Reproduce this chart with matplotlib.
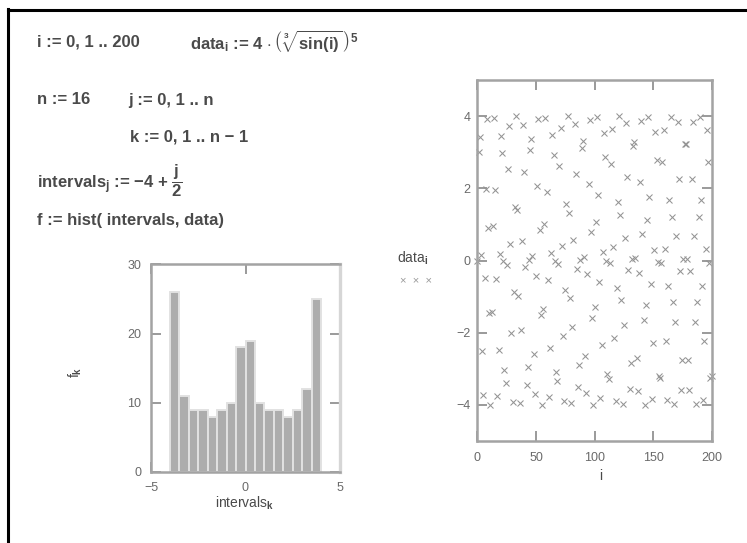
import numpy as np
import matplotlib
matplotlib.use("Agg")
import matplotlib.pyplot as plt
from matplotlib.lines import Line2D

plt.rcParams["font.family"] = ["Liberation Sans", "DejaVu Sans"]
plt.rcParams["mathtext.fontset"] = "custom"
plt.rcParams["mathtext.rm"] = "Liberation Sans:bold"
plt.rcParams["mathtext.it"] = "Liberation Sans:bold:italic"
plt.rcParams["mathtext.bf"] = "Liberation Sans:bold"

# data_i, i = 0 .. 200
data = [
    0.000, 3.001, 3.415, 0.153, -2.514, -3.730, -0.480, 1.987, 3.930, 0.914,
    -1.451, -4.000, -1.419, 0.945, 3.938, 1.953, -0.504, -3.747, -2.482, 0.169,
    3.438, 2.973, -0.002, -3.029, -3.391, -0.137, 2.547, 3.714, 0.456, -2.021,
    -3.922, -0.884, 1.483, 4.000, 1.386, -0.975, -3.946, -1.920, 0.528, 3.763,
    2.450, -0.187, -3.460, -2.945, 0.005, 3.058, 3.368, 0.123, -2.580, -3.698,
    -0.432, 2.055, 3.913, 0.855, -1.518, -3.998, -1.354, 1.005, 3.953, 1.887,
    -0.553, -3.779, -2.418, 0.206, 3.483, 2.916, -0.009, -3.086, -3.345, -0.109,
    2.612, 3.681, 0.408, -2.089, -3.902, -0.827, 1.552, 3.997, 1.322, -1.036,
    -3.960, -1.854, 0.580, 3.793, 2.387, -0.224, -3.506, -2.888, 0.015, 3.113,
    3.319, 0.095, -2.642, -3.661, -0.386, 2.121, 3.892, 0.798, -1.585, -3.995,
    -1.288, 1.065, 3.966, 1.819, -0.606, -3.806, -2.353, 0.242, 3.525, 2.856,
    -0.022, -3.140, -3.295, -0.082, 2.673, 3.643, 0.364, -2.155, -3.882, -0.769,
    1.618, 3.992, 1.255, -1.098, -3.972, -1.786, 0.632, 3.821, 2.321, -0.261,
    -3.546, -2.827, 0.030, 3.167, 3.270, 0.070, -2.704, -3.624, -0.343, 2.187,
    3.871, 0.741, -1.651, -3.989, -1.223, 1.129, 3.977, 1.751, -0.659, -3.833,
    -2.287, 0.279, 3.566, 2.796, -0.039, -3.194, -3.245, -0.059, 2.734, 3.606,
    0.322, -2.220, -3.859, -0.712, 1.684, 3.985, 1.192, -1.161, -3.982, -1.717,
    0.684, 3.846, 2.254, -0.301, -3.586, -2.765, 0.048, 3.220, 3.219, 0.048,
    -2.765, -3.586, -0.300, 2.254, 3.846, 0.684, -1.717, -3.982, -1.161, 1.192,
    3.985, 1.684, -0.712, -3.859, -2.219, 0.322, 3.606, 2.734, -0.059, -3.245,
    -3.194,
]
index = np.arange(len(data))

# interval edges and the counts per interval
intervals = [-4.0, -3.5, -3.0, -2.5, -2.0, -1.5, -1.0, -0.5, 0.0,
             0.5, 1.0, 1.5, 2.0, 2.5, 3.0, 3.5, 4.0]
counts = [26, 11, 9, 9, 8, 9, 10, 18, 19, 10, 9, 9, 8, 9, 12, 25]

hist_xticks = [-5, 0, 5]
hist_yticks = [0, 10, 20, 30]
scat_xticks = [0, 50, 100, 150, 200]
scat_yticks = [-4, -2, 0, 2, 4]

W, H = 747, 543


def fx(x):
    return x / W


def fy(y):
    return 1 - y / H


fig = plt.figure(figsize=(W / 100, H / 100), dpi=100)
fig.patch.set_facecolor("white")

# worksheet frame (top and left edge)
fig.add_artist(Line2D([fx(7.5), 1.0], [fy(10), fy(10)], color="black", lw=2.2))
fig.add_artist(Line2D([fx(7.5), fx(7.5)], [fy(9), 0.0], color="black", lw=2.2))

MINUS = "\u2212"
txt = dict(fontsize=12, fontweight="bold", color="#4a4a4a",
           va="center", ha="left")
fig.text(fx(37), fy(42), "i := 0, 1 .. 200", **txt)
fig.text(fx(190), fy(42),
         r"data$_\mathrm{i}$ := 4 $\cdot\,\left(\,\sqrt[3]{\mathrm{sin(i)}}\,\right)^5$",
         **txt)
fig.text(fx(37), fy(100), "n := 16", **txt)
fig.text(fx(128), fy(100), "j := 0, 1 .. n", **txt)
fig.text(fx(130), fy(137), "k := 0, 1 .. n " + MINUS + " 1", **txt)
fig.text(fx(37), fy(181),
         r"intervals$_\mathrm{j}$ := " + MINUS + r"4 + $\dfrac{\mathrm{j}}{2}$",
         **txt)
fig.text(fx(37), fy(220), "f := hist( intervals, data)", **txt)

spine_col = "#a3a3a3"
tick_col = "#9a9a9a"
lab_col = "#6a6a6a"


def style_axes(ax):
    for sp in ax.spines.values():
        sp.set_color(spine_col)
        sp.set_linewidth(1.8)
    ax.tick_params(direction="in", length=7, width=1.4, color=tick_col,
                   top=True, right=True, labelsize=9, labelcolor=lab_col)


# histogram of the data
ax_h = fig.add_axes([fx(151), fy(472), (340 - 151) / W, (472 - 264.5) / H])
ax_h.bar(intervals[:-1], counts, width=0.5, align="edge",
         color="#adadad", edgecolor="#e2e2e2", linewidth=1.4, zorder=2)
ax_h.set_xlim(-5, 5)
ax_h.set_ylim(0, 30)
ax_h.set_xticks(hist_xticks)
ax_h.set_yticks(hist_yticks)
style_axes(ax_h)
ax_h.spines["right"].set_color("#d6d6d6")
ax_h.spines["right"].set_linewidth(2.4)
ax_h.tick_params(axis="y", pad=7)
ax_h.tick_params(axis="x", pad=7)
fig.text(fx(245), fy(503), r"intervals$_\mathrm{k}$", fontsize=10,
         color="#4a4a4a", ha="center", va="center")
fig.text(fx(75), fy(372), r"f$_\mathrm{k}$", fontsize=10, rotation=90,
         color="#4a4a4a", ha="center", va="center")

# data_i against i
ax_s = fig.add_axes([fx(477.5), fy(441), (711.5 - 477.5) / W, (441 - 80) / H])
ax_s.plot(index, data, linestyle="none", marker="x", markersize=5,
          markeredgewidth=0.75, color="#939393", clip_on=False)
ax_s.set_xlim(0, 200)
ax_s.set_ylim(-5, 5)
ax_s.set_xticks(scat_xticks)
ax_s.set_yticks(scat_yticks)
style_axes(ax_s)
ax_s.tick_params(axis="y", pad=5)
ax_s.tick_params(axis="x", pad=8)
fig.text(fx(413), fy(258), r"data$_\mathrm{i}$", fontsize=10,
         color="#4a4a4a", ha="center", va="center")
fig.text(fx(416), fy(281), "\u00d7  \u00d7  \u00d7", fontsize=8,
         color="#9a9a9a", ha="center", va="center")
fig.text(fx(601), fy(476), "i", fontsize=10, color="#4a4a4a",
         ha="center", va="center")

fig.savefig("out.png", dpi=100)
